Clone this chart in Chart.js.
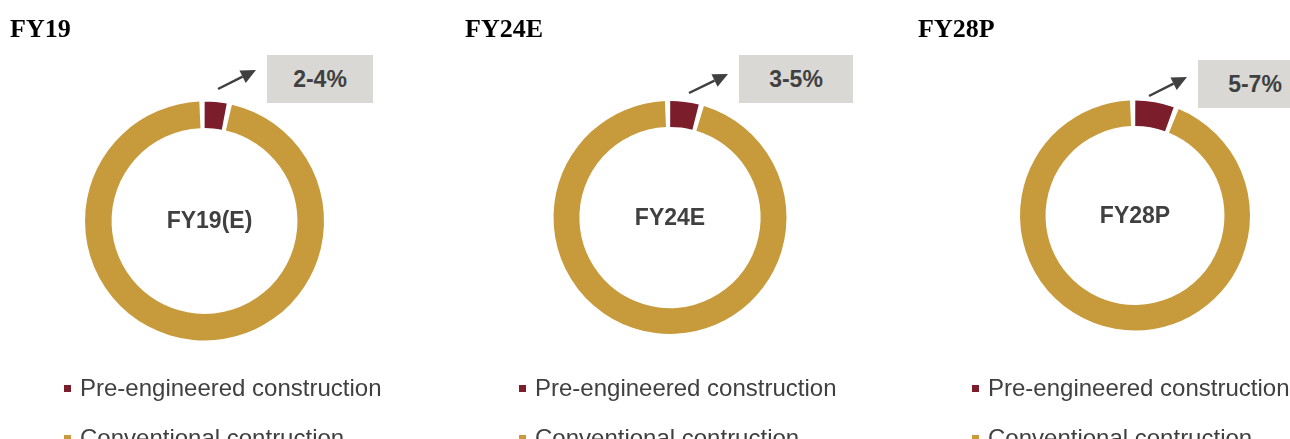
<!DOCTYPE html>
<html>
<head>
<meta charset="utf-8">
<script src="https://cdn.jsdelivr.net/npm/chart.js@4/dist/chart.umd.min.js"></script>
<style>
  html, body { margin: 0; padding: 0; background: #fff; }
  body { width: 1290px; height: 439px; position: relative; overflow: hidden; font-family: "Liberation Sans", Arial, sans-serif; }
  canvas { position: absolute; left: 0; top: 0; }
  .title { position: absolute; top: 14px; font: bold 26px "Liberation Serif", "Times New Roman", serif; color: #000; line-height: 30px; }
  .range { position: absolute; height: 48px; background: #d9d8d4; color: #404040;
           font: bold 23px "Liberation Sans", Arial, sans-serif; display: flex; align-items: center; justify-content: center; }
  .legend { position: absolute; top: 373px; color: #404040; font: 24px "Liberation Sans", Arial, sans-serif; }
  .legend div { height: 50px; line-height: 30px; white-space: nowrap; }
  .legend span { display: inline-block; width: 7px; height: 7px; margin-right: 9px; vertical-align: middle; position: relative; top: -1px; }
</style>
</head>
<body>
<script>
// share of building market, %
const years = ['FY19', 'FY24E', 'FY28P'];
const centreLabels = ['FY19(E)', 'FY24E', 'FY28P'];
const rangeLabels = ['2-4%', '3-5%', '5-7%'];
const seriesNames = ['Pre-engineered construction', 'Conventional contruction'];
const preEngineered = [3, 4, 5.5];
const conventional = [97, 96, 94.5];

const COLORS = { pre: '#7b1d2a', conv: '#c79b3b', text: '#404040' };

// where each panel sits on the page
const panels = [
  { cx: 204.5, cy: 221, r: 118, titleX: 10, boxX: 267, boxY: 55, boxW: 106, arrow: [218, 89, 256, 70], legendX: 64 },
  { cx: 670, cy: 217.5, r: 115, titleX: 465, boxX: 739, boxY: 55, boxW: 114, arrow: [689, 93, 728, 74], legendX: 519 },
  { cx: 1135, cy: 215.5, r: 113.5, titleX: 918, boxX: 1198, boxY: 60, boxW: 114, arrow: [1149, 96, 1187, 77], legendX: 972 }
];

const W = 1290, H = 439, GAP = 3;

// arrow and the label in the hole
const decorPlugin = {
  id: 'decor',
  afterDraw(chart, args, opts) {
    const ctx = chart.ctx;
    const a = chart.chartArea;
    ctx.save();
    ctx.fillStyle = COLORS.text;
    ctx.font = 'bold 23px "Liberation Sans", Arial, sans-serif';
    ctx.textAlign = 'center';
    ctx.textBaseline = 'middle';
    ctx.fillText(opts.label, (a.left + a.right) / 2 + (opts.dx || 0), (a.top + a.bottom) / 2 + 1);

    const [x1, y1, x2, y2] = opts.arrow;
    const ang = Math.atan2(y2 - y1, x2 - x1);
    const len = 15, half = 7;
    const bx = x2 - len * Math.cos(ang), by = y2 - len * Math.sin(ang);
    ctx.strokeStyle = COLORS.text;
    ctx.lineWidth = 2.5;
    ctx.beginPath();
    ctx.moveTo(x1, y1);
    ctx.lineTo(bx, by);
    ctx.stroke();
    ctx.beginPath();
    ctx.moveTo(x2, y2);
    ctx.lineTo(bx + half * Math.sin(ang), by - half * Math.cos(ang));
    ctx.lineTo(bx - half * Math.sin(ang), by + half * Math.cos(ang));
    ctx.closePath();
    ctx.fill();
    ctx.restore();
  }
};

panels.forEach((p, i) => {
  const cv = document.createElement('canvas');
  cv.width = W;
  cv.height = H;
  document.body.appendChild(cv);

  const h = p.r + GAP / 2;
  new Chart(cv.getContext('2d'), {
    type: 'doughnut',
    data: {
      labels: seriesNames,
      datasets: [{
        data: [preEngineered[i], conventional[i]],
        backgroundColor: [COLORS.pre, COLORS.conv],
        borderWidth: 0,
        spacing: GAP
      }]
    },
    options: {
      responsive: false,
      animation: false,
      cutout: '77.5%',
      layout: {
        padding: { left: p.cx - h, right: W - p.cx - h, top: p.cy - h, bottom: H - p.cy - h }
      },
      plugins: {
        legend: { display: false },
        tooltip: { enabled: false },
        decor: { label: centreLabels[i], arrow: p.arrow, dx: i === 0 ? 5 : 0 }
      }
    },
    plugins: [decorPlugin]
  });

  const t = document.createElement('div');
  t.className = 'title';
  t.style.left = p.titleX + 'px';
  t.textContent = years[i];
  document.body.appendChild(t);

  const b = document.createElement('div');
  b.className = 'range';
  b.style.left = p.boxX + 'px';
  b.style.top = p.boxY + 'px';
  b.style.width = p.boxW + 'px';
  b.textContent = rangeLabels[i];
  document.body.appendChild(b);

  const lg = document.createElement('div');
  lg.className = 'legend';
  lg.style.left = p.legendX + 'px';
  [COLORS.pre, COLORS.conv].forEach((c, k) => {
    const row = document.createElement('div');
    const sw = document.createElement('span');
    sw.style.background = c;
    row.appendChild(sw);
    row.appendChild(document.createTextNode(seriesNames[k]));
    lg.appendChild(row);
  });
  document.body.appendChild(lg);
});
</script>
</body>
</html>
